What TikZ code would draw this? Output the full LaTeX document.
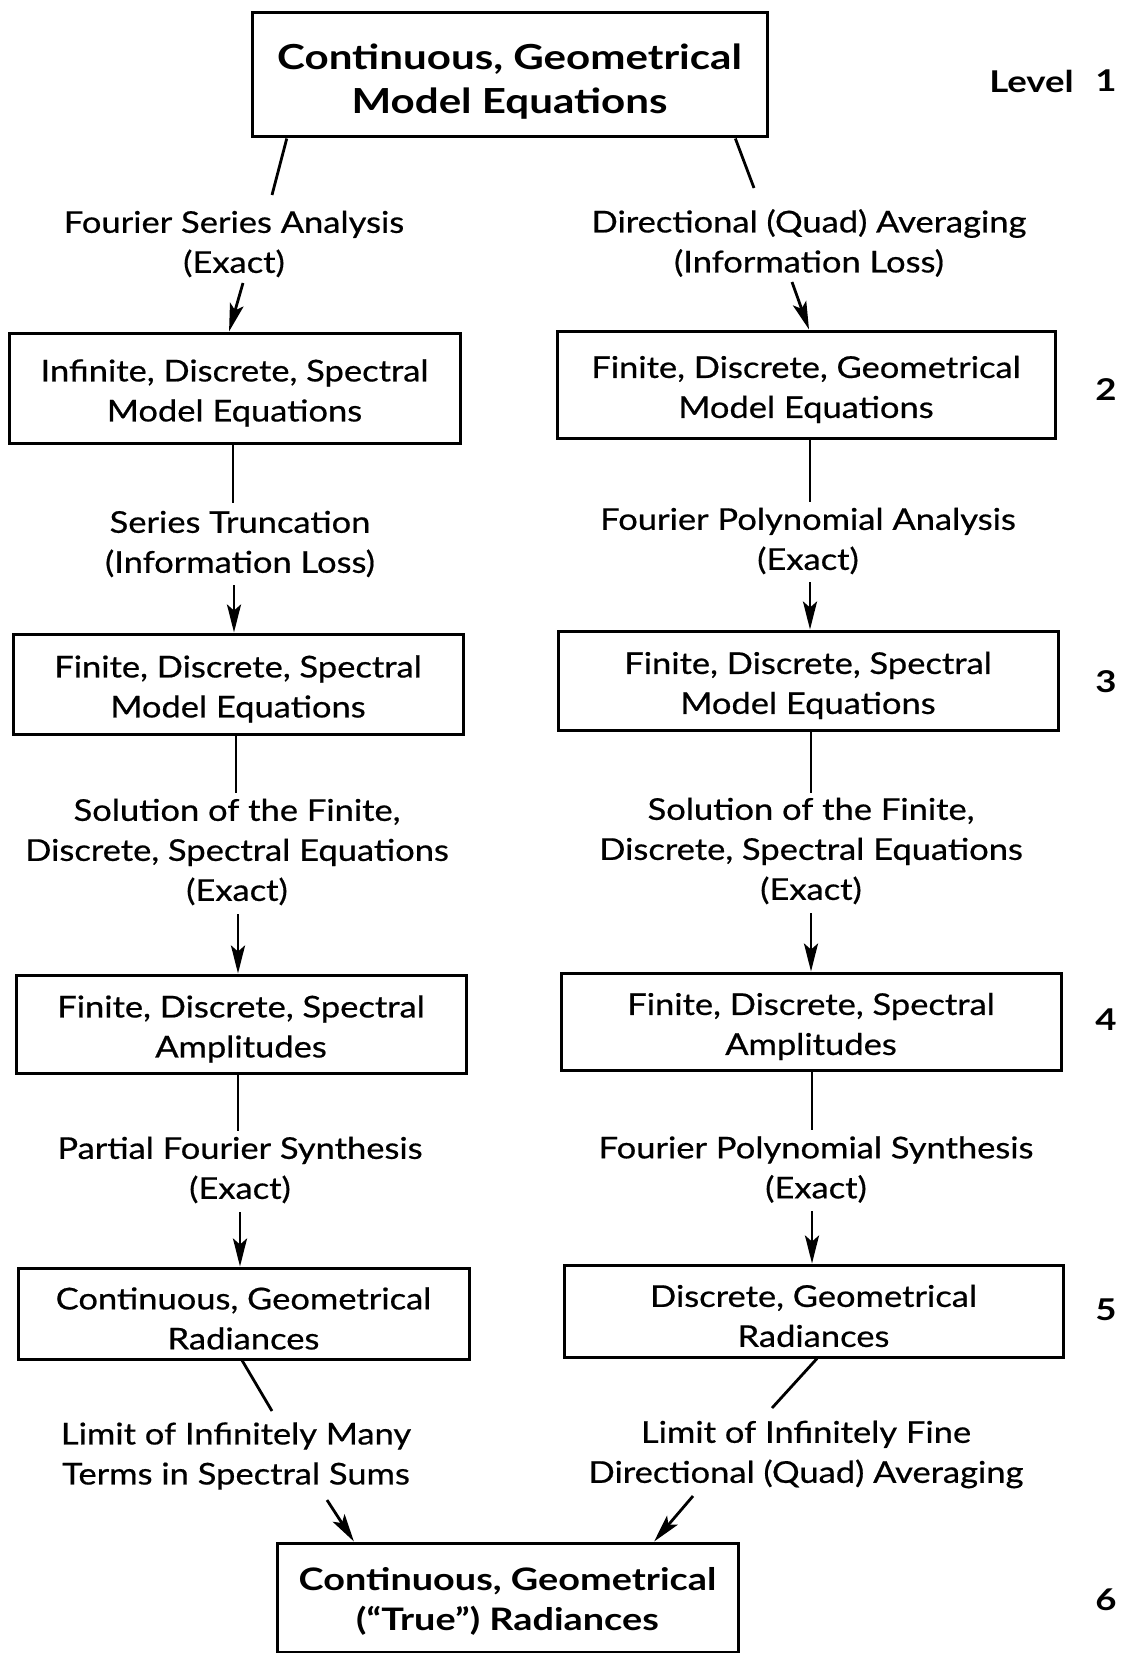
\documentclass[tikz,border=0pt]{standalone}
\usepackage{fontspec}
\setmainfont{Lato}
\newfontfamily\labfont[Ligatures=TeX,FakeStretch=1.15,FakeBold=0.6]{Lato}
\newfontfamily\boldfont[Ligatures=TeX,FakeStretch=1.22]{Lato Bold}
\newcommand\mystrutA{\rule{0pt}{32pt}}
\newcommand\mystrutB{\rule{0pt}{38pt}}
\newcommand\mystrutC{\rule{0pt}{30pt}}
\usetikzlibrary{arrows.meta,calc}
\begin{document}
\begin{tikzpicture}[x=1pt,y=-1pt,
  box/.style={draw,line width=3pt,rectangle,inner sep=0pt,align=center,font=\labfont\fontsize{30}{40}\selectfont},
  bbox/.style={box,font=\boldfont\fontsize{34.5}{44}\selectfont},
  bbsm/.style={box,font=\boldfont\fontsize{31}{40}\selectfont},
  lab/.style={align=center,inner sep=0pt,font=\labfont\fontsize{30}{40}\selectfont},
  lvl/.style={font=\boldfont\fontsize{30}{36}\selectfont,inner sep=0pt},
  conn/.style={line width=2.8pt},
  arr/.style={conn,-{Stealth[length=28pt,width=14pt,inset=6pt]}}]
\clip (0,0) rectangle (1123,1653);
\fill[white] (0,0) rectangle (1123,1653);
% boxes
\node[bbox,minimum width=515pt,minimum height=124pt] (top) at (509.5,75) {\mystrutB Continuous, Geometrical\\Model Equations};
\node[box,minimum width=451pt,minimum height=110pt] (b2l) at (234.5,388) {\mystrutA Infinite, Discrete, Spectral\\Model Equations};
\node[box,minimum width=498pt,minimum height=107pt] (b2r) at (806,384.5) {\mystrutA Finite, Discrete, Geometrical\\Model Equations};
\node[box,minimum width=450pt,minimum height=100pt] (b3l) at (238,684) {\mystrutA Finite, Discrete, Spectral\\Model Equations};
\node[box,minimum width=500pt,minimum height=99pt] (b3r) at (808,680.5) {\mystrutA Finite, Discrete, Spectral\\Model Equations};
\node[box,minimum width=450pt,minimum height=98pt] (b4l) at (241,1024) {\mystrutA Finite, Discrete, Spectral\\Amplitudes};
\node[box,minimum width=500pt,minimum height=97pt] (b4r) at (811,1021.5) {\mystrutA Finite, Discrete, Spectral\\Amplitudes};
\node[box,minimum width=451pt,minimum height=91pt] (b5l) at (243.5,1313.5) {\mystrutA Continuous, Geometrical\\Radiances};
\node[box,minimum width=499pt,minimum height=92pt] (b5r) at (813.5,1311) {\mystrutA Discrete, Geometrical\\Radiances};
\node[bbsm,minimum width=461pt,minimum height=109pt] (bot) at (507.5,1597.5) {\mystrutC Continuous, Geometrical\\(``True'') Radiances};
% labels
\node[lab] (l1l) at (234,244) {Fourier Series Analysis\\(Exact)};
\node[lab] (l1r) at (809,243) {Directional (Quad) Averaging\\(Information Loss)};
\node[lab] (l2l) at (240,544) {Series Truncation\\(Information Loss)};
\node[lab] (l2r) at (808,541) {Fourier Polynomial Analysis\\(Exact)};
\node[lab] (l3l) at (237,852) {Solution of the Finite,\\Discrete, Spectral Equations\\(Exact)};
\node[lab] (l3r) at (811,851) {Solution of the Finite,\\Discrete, Spectral Equations\\(Exact)};
\node[lab] (l4l) at (240,1170) {Partial Fourier Synthesis\\(Exact)};
\node[lab] (l4r) at (816,1169.5) {Fourier Polynomial Synthesis\\(Exact)};
\node[lab] (l5l) at (236,1456) {Limit of Infinitely Many\\Terms in Spectral Sums};
\node[lab] (l5r) at (806,1454.5) {Limit of Infinitely Fine\\Directional (Quad) Averaging};
% levels
\node[lvl,anchor=east] (lvw) at (1074,81) {Level};
\node[lvl] (lv1) at (1106,81) {1};
\node[lvl] (lv2) at (1106,390) {2};
\node[lvl] (lv3) at (1106,682) {3};
\node[lvl] (lv4) at (1106,1020) {4};
\node[lvl] (lv5) at (1106,1310) {5};
\node[lvl] (lv6) at (1106,1600) {6};
% connector free ends
\coordinate (p1) at (272,195);
\coordinate (p2) at (243,283);
\coordinate (q1) at (754,188);
\coordinate (q2) at (792,282);
\coordinate (p3) at (233,503);
\coordinate (p4) at (234,585);
\coordinate (q3) at (810,502);
\coordinate (q4) at (810,582);
\coordinate (p5) at (236,793);
\coordinate (p6) at (238,914);
\coordinate (q5) at (811,793);
\coordinate (q6) at (811,913);
\coordinate (p7) at (238,1131);
\coordinate (p8) at (240,1212);
\coordinate (q7) at (812,1130);
\coordinate (q8) at (812,1211);
\coordinate (p9) at (272,1411);
\coordinate (p10) at (327,1500);
\coordinate (q9) at (772,1408);
\coordinate (q10) at (693,1496);
% connectors
\draw[conn] ($(top.south west)!0.07!(top.south east)$) -- (p1);
\draw[arr] (p2) -- ($(b2l.north west)!0.488!(b2l.north east)$);
\draw[conn] ($(top.south west)!0.936!(top.south east)$) -- (q1);
\draw[arr] (q2) -- ($(b2r.north west)!0.506!(b2r.north east)$);
\draw[conn] (b2l.south -| p3) -- (p3);
\draw[arr] (p4) -- (b3l.north -| p4);
\draw[conn] (b2r.south -| q3) -- (q3);
\draw[arr] (q4) -- (b3r.north -| q4);
\draw[conn] (b3l.south -| p5) -- (p5);
\draw[arr] (p6) -- (b4l.north -| p6);
\draw[conn] (b3r.south -| q5) -- (q5);
\draw[arr] (q6) -- (b4r.north -| q6);
\draw[conn] (b4l.south -| p7) -- (p7);
\draw[arr] (p8) -- (b5l.north -| p8);
\draw[conn] (b4r.south -| q7) -- (q7);
\draw[arr] (q8) -- (b5r.north -| q8);
\draw[conn] ($(b5l.south west)!0.497!(b5l.south east)$) -- (p9);
\draw[arr] (p10) -- ($(bot.north west)!0.169!(bot.north east)$);
\draw[conn] ($(b5r.south west)!0.507!(b5r.south east)$) -- (q9);
\draw[arr] (q10) -- ($(bot.north west)!0.816!(bot.north east)$);
\end{tikzpicture}
\end{document}
